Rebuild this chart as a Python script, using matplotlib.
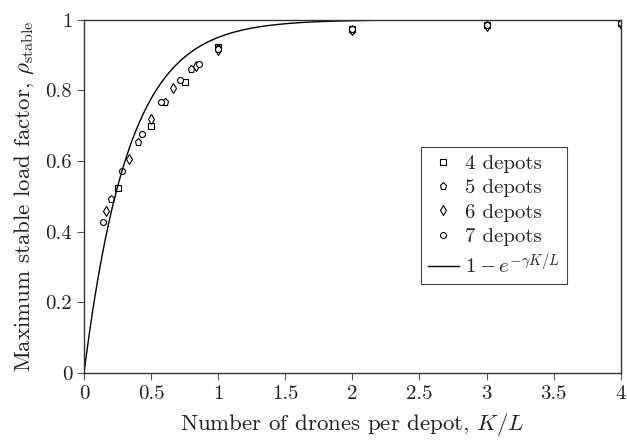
import numpy as np
import matplotlib
matplotlib.use('Agg')
import matplotlib.pyplot as plt

plt.rcParams['font.family'] = 'serif'
plt.rcParams['font.serif'] = ['cmr10']
plt.rcParams['mathtext.fontset'] = 'cm'
plt.rcParams['axes.unicode_minus'] = False
plt.rcParams['axes.formatter.use_mathtext'] = True

# values
x4 = [0.25, 0.5, 0.75, 1, 2, 3, 4]
y4 = [0.525, 0.700, 0.825, 0.922, 0.975, 0.985, 0.990]
x5 = [0.2, 0.4, 0.6, 0.8, 1, 2, 3, 4]
y5 = [0.492, 0.653, 0.767, 0.862, 0.920, 0.972, 0.984, 0.990]
x6 = [1/6, 1/3, 0.5, 2/3, 5/6, 1, 2, 3, 4]
y6 = [0.460, 0.605, 0.720, 0.808, 0.868, 0.914, 0.970, 0.982, 0.989]
x7 = [1/7, 2/7, 3/7, 4/7, 5/7, 6/7, 1, 2, 3, 4]
y7 = [0.428, 0.572, 0.676, 0.767, 0.831, 0.875, 0.918, 0.974, 0.985, 0.990]
gamma = 3.0

xticks = [0, 0.5, 1, 1.5, 2, 2.5, 3, 3.5, 4]
xlabels = ['0', '0.5', '1', '1.5', '2', '2.5', '3', '3.5', '4']
yticks = [0, 0.2, 0.4, 0.6, 0.8, 1]
ylabels = ['0', '0.2', '0.4', '0.6', '0.8', '1']

fig = plt.figure(figsize=(6.27, 4.40), dpi=100)
ax = fig.add_axes([0.134, 0.152, 0.856, 0.803])

mk = dict(ls='none', mfc='white', mec='black', mew=0.8)
ax.plot(x4, y4, marker='s', ms=4.3, label='4 depots', **mk)
ax.plot(x5, y5, marker='p', ms=5.2, label='5 depots', **mk)
ax.plot(x6, y6, marker='d', ms=5.0, label='6 depots', **mk)
ax.plot(x7, y7, marker='o', ms=4.3, label='7 depots', **mk)

xc = np.linspace(0, 4, 400)
ax.plot(xc, 1 - np.exp(-gamma * xc), color='black', lw=1.0,
        label=r'$1-e^{-\gamma K/L}$')

ax.set_xlim(0, 4)
ax.set_ylim(0, 1)
ax.set_xticks(xticks)
ax.set_xticklabels(xlabels)
ax.set_yticks(yticks)
ax.set_yticklabels(ylabels)
ax.tick_params(direction='out', length=5, width=0.8, color='#555555',
               labelsize=15, labelcolor='#222222', top=False, right=False)
for s in ax.spines.values():
    s.set_color('#333333')
    s.set_linewidth(1.0)

ax.set_xlabel(r'Number of drones per depot, $K/L$', fontsize=16.5, color='#222222', labelpad=6)
ax.set_ylabel(r'Maximum stable load factor, $\rho_{\mathrm{stable}}$', fontsize=16.5,
              color='#222222', labelpad=7)

leg = ax.legend(loc='lower left', bbox_to_anchor=(0.627, 0.252), fontsize=15,
                frameon=True, fancybox=False, edgecolor='#444444', framealpha=1,
                handlelength=1.5, handletextpad=0.3, borderpad=0.35, labelspacing=0.28,
                borderaxespad=0)
leg.get_frame().set_linewidth(0.8)
for t in leg.get_texts():
    t.set_color('#222222')

fig.savefig('out.png', dpi=100)
